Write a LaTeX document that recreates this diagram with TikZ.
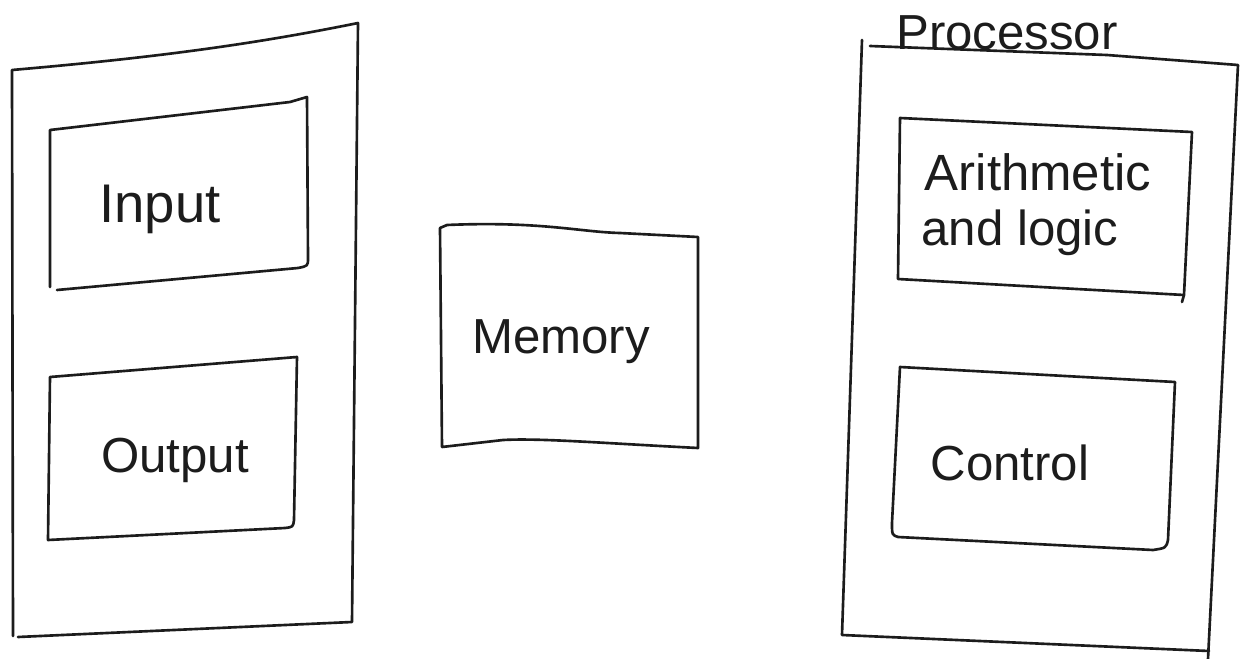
\documentclass[tikz,border=0pt]{standalone}
\usepackage{fontspec}
\setmainfont{Liberation Sans}
\definecolor{inkc}{RGB}{28,28,28}
\begin{document}
\begin{tikzpicture}[x=0.02cm,y=-0.02cm,line join=round,line cap=round,
  sketch/.style={draw=inkc,line width=1.5pt},
  lbl/.style={font=\fontsize{28}{32}\selectfont,text=inkc,inner sep=0pt,anchor=base}]
\useasboundingbox[fill=white] (0,0) rectangle (1242,659);

% left outer box (Input / Output unit)
\draw[sketch] (13,636) -- (12,70) .. controls (150,58) and (250,45) .. (358,23) -- (352,622) -- (18,637);

% Input box
\draw[sketch] (50,287) -- (50,130) -- (290,102) .. controls (298,99) .. (307,97)
  -- (308,258) .. controls (308,266) .. (298,268) -- (57,290);
\node[lbl,font=\fontsize{31}{34}\selectfont] (input) at (160,222) {Input};

% Output box
\draw[sketch] (50,377) -- (297,357) -- (294,520) .. controls (293,527) .. (285,528) -- (48,540) -- cycle;
\node[lbl] (output) at (175,472) {Output};

% Memory box
\draw[sketch] (442,447) -- (440,228) -- (447,225) .. controls (540,221) and (580,232) .. (620,233)
  -- (698,237) -- (698,448) .. controls (600,443) and (540,438) .. (503,440) -- (442,447);
\node[lbl] (memory) at (561,353) {Memory};

% Processor outer box
\draw[sketch] (862,40) -- (842,635) -- (1209,651);
\draw[sketch] (870,46) -- (1107,55) -- (1238,65) -- (1208,659);
\node[lbl] (processor) at (1007,50) {Processor};

% Arithmetic and logic box
\draw[sketch] (900,118) -- (1192,132) -- (1184,295) -- (898,279) -- cycle;
\draw[sketch] (1184,295) -- (1182,302);
\node[lbl,font=\fontsize{29}{33}\selectfont] (alu1) at (1038,190) {Arithmetic};
\node[lbl] (alu2) at (1020,245) {and logic};

% Control box
\draw[sketch] (900,367) -- (1175,382) -- (1168,540) .. controls (1166,548) .. (1153,550)
  -- (898,537) .. controls (892,535) .. (892,523) -- cycle;
\node[lbl] (control) at (1010,480) {Control};
\end{tikzpicture}
\end{document}
